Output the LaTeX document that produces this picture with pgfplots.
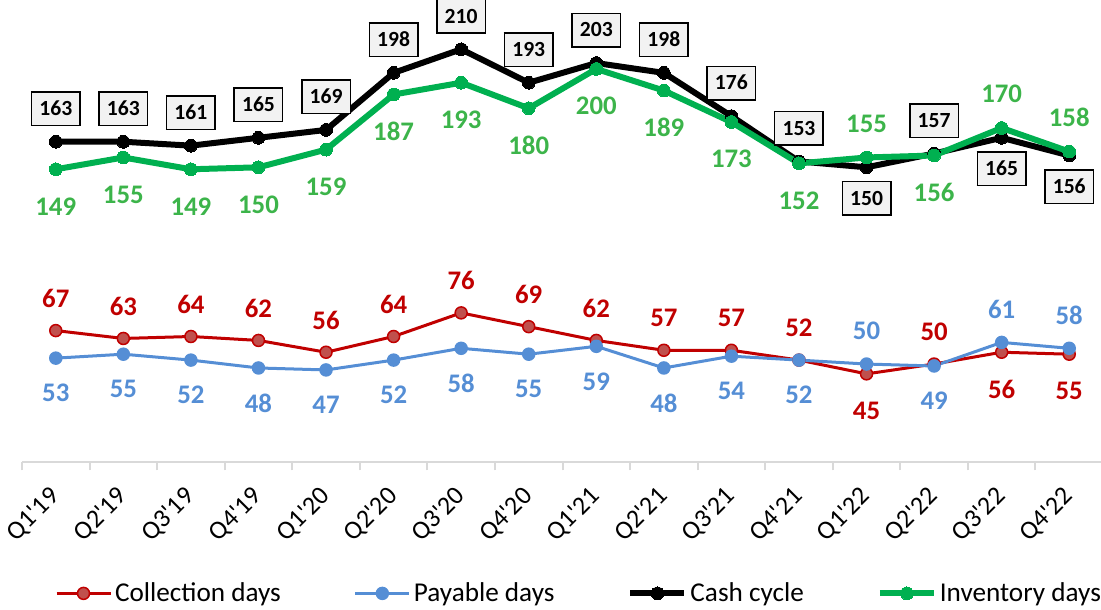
\documentclass[border=0pt]{standalone}
\usepackage{pgfplots}
\pgfplotsset{compat=1.18}
\usepackage{pgfplotstable}
\usepackage{fontspec}
\setmainfont{Carlito}
\definecolor{cred}{HTML}{C00000}
\definecolor{credfill}{HTML}{C0504D}
\definecolor{cblue}{HTML}{558ED5}
\definecolor{cgreen}{HTML}{00B050}
\definecolor{cgreenlab}{HTML}{3CB44A}
\definecolor{boxfill}{HTML}{F2F2F2}
\definecolor{axgray}{HTML}{D9D9D9}

\pgfplotstableread{
x cash cs inv is col ls pay ps
0 163 16.5 149 -18.5 67 16 53 -17.5
1 163 16.5 155 -18.5 63 16 55 -17.5
2 161 16.5 149 -18.5 64 16 52 -17.5
3 165 16.5 150 -18.5 62 16 48 -17.5
4 169 16.5 159 -18.5 56 16 47 -17.5
5 198 16.5 187 -18.5 64 16 52 -17.5
6 210 16.5 193 -18.5 76 16 58 -17.5
7 193 16.5 180 -18.5 69 16 55 -17.5
8 203 16.5 200 -18.5 62 16 59 -17.5
9 198 16.5 189 -18.5 57 16 48 -17.5
10 176 16.5 173 -18.5 57 16 54 -17.5
11 153 16.5 152 -18.5 52 16 52 -17.5
12 150 -15.5 155 17 45 -18.5 50 16.5
13 157 16.5 156 -18.5 50 16 49 -17.5
14 165 -15.5 170 17 56 -18.5 61 16.5
15 156 -15.5 158 17 55 -18.5 58 16.5
}\datatable

\newcommand{\ticksz}{\fontsize{13}{16}\selectfont}
\newcommand{\labsz}{\fontsize{13.4}{16}\selectfont\bfseries}
\newcommand{\boxsz}{\fontsize{10.8}{13}\selectfont\bfseries}
\newcommand{\tl}[2]{{\ticksz Q#1\textquotesingle#2}}
\newcommand{\cbox}[1]{{\setlength{\fboxsep}{0pt}\setlength{\fboxrule}{0.75pt}%
  \fcolorbox{black}{boxfill}{\makebox[23.5pt]{\rule[-4.6pt]{0pt}{16pt}\boxsz #1}}}}

\begin{document}
\begin{tikzpicture}
\begin{axis}[name=ax, scale only axis, width=540.5pt, height=228.2pt,
  xmin=-0.5, xmax=15.5, ymin=0, ymax=232,
  axis x line*=bottom, axis y line=none,
  axis line style={axgray, line width=1pt},
  xtick={0,...,15},
  xticklabels={\tl{1}{19},\tl{2}{19},\tl{3}{19},\tl{4}{19},
    \tl{1}{20},\tl{2}{20},\tl{3}{20},\tl{4}{20},
    \tl{1}{21},\tl{2}{21},\tl{3}{21},\tl{4}{21},
    \tl{1}{22},\tl{2}{22},\tl{3}{22},\tl{4}{22}},
  major tick length=0pt,
  minor xtick={-0.5,0.5,...,15.5}, minor tick length=4pt, tick align=outside,
  minor tick style={axgray, line width=1pt},
  xticklabel style={rotate=45, anchor=east, inner sep=0pt},
  xticklabel shift=15pt,
  clip=false,
  /pgf/number format/assume math mode=true,
  legend columns=4,
  legend cell align=left,
  legend style={at={(0.5157,-0.287)}, anchor=center, draw=none, fill=none,
    font=\fontsize{13.6}{16}\selectfont, column sep=0pt,
    /tikz/every even column/.append style={column sep=35pt},
    nodes={inner sep=1.5pt}},
  legend image code/.code={\draw[mark repeat=2,mark phase=2,#1] plot coordinates {(0pt,0pt) (13.5pt,0pt) (27pt,0pt)};},
]
\addplot[cred, line width=1.5pt, mark=*, mark size=3pt,
  mark options={fill=credfill, draw=cred, line width=0.75pt},
  nodes near coords={\labsz\pgfmathprintnumber{\pgfplotspointmeta}},
  visualization depends on={\thisrow{ls} \as \myshift},
  every node near coord/.append style={text=cred, anchor=center, inner sep=0pt, yshift=\myshift pt}]
  table[x=x, y=col] {\datatable};
\addlegendentry{Collection days}
\addplot[cblue, line width=1.5pt, mark=*, mark size=3pt,
  mark options={fill=cblue, draw=cblue, line width=0.75pt},
  nodes near coords={\labsz\pgfmathprintnumber{\pgfplotspointmeta}},
  visualization depends on={\thisrow{ps} \as \myshift},
  every node near coord/.append style={text=cblue, anchor=center, inner sep=0pt, yshift=\myshift pt}]
  table[x=x, y=pay] {\datatable};
\addlegendentry{Payable days}
\addplot[black, line width=3pt, mark=*, mark size=3.2pt,
  mark options={fill=black, draw=black, line width=0pt},
  nodes near coords={\cbox{\pgfmathprintnumber{\pgfplotspointmeta}}},
  visualization depends on={\thisrow{cs} \as \myshift},
  every node near coord/.append style={text=black, anchor=center, inner sep=0pt, yshift=\myshift pt}]
  table[x=x, y=cash] {\datatable};
\addlegendentry{Cash cycle}
\addplot[cgreen, line width=3pt, mark=*, mark size=3.2pt,
  mark options={fill=cgreen, draw=cgreen, line width=0pt},
  nodes near coords={\labsz\pgfmathprintnumber{\pgfplotspointmeta}},
  visualization depends on={\thisrow{is} \as \myshift},
  every node near coord/.append style={text=cgreenlab, anchor=center, inner sep=0pt, yshift=\myshift pt}]
  table[x=x, y=inv] {\datatable};
\addlegendentry{Inventory days}
\end{axis}
\pgfresetboundingbox
\path[use as bounding box] ([xshift=-11pt,yshift=-73.5pt]ax.south west) rectangle ([xshift=-1pt,yshift=3pt]ax.north east);
\end{tikzpicture}
\end{document}
